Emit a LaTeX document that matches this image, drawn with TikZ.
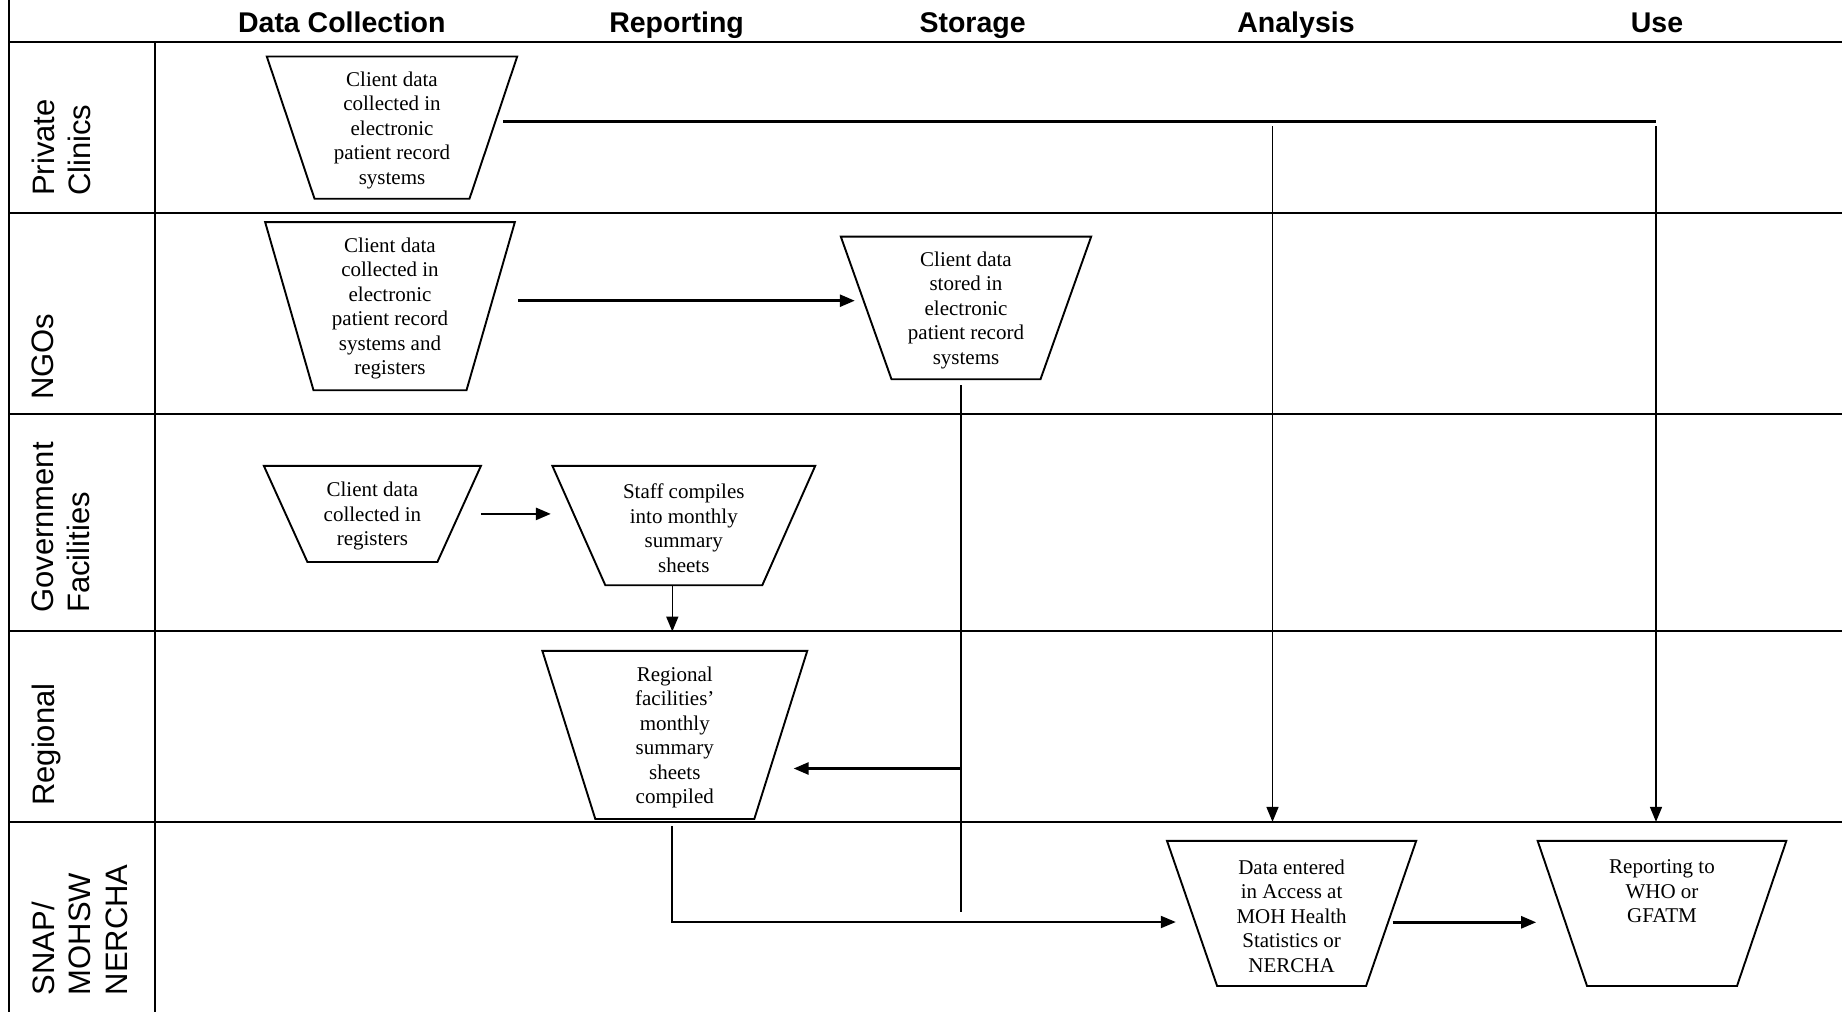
\documentclass[tikz,border=0pt]{standalone}
\usepackage{fontspec}
\setmainfont{Liberation Serif}
\newfontfamily\arialfont{Liberation Sans}
\usetikzlibrary{calc,arrows.meta}

\tikzset{
  gridline/.style={line width=2.4pt},
  trapline/.style={line width=1.9pt, line join=miter},
  boxshape/.style={inner sep=0pt},
  boxtext/.style={inner sep=0pt, align=center, font=\fontsize{21}{24.5}\selectfont},
  hdr/.style={inner sep=0pt, anchor=base, font=\arialfont\bfseries\fontsize{28.5}{34}\selectfont},
  rowlbl/.style={inner sep=0pt, rotate=90, anchor=north west, align=left, font=\arialfont\fontsize{31}{36.5}\selectfont},
  thickline/.style={line width=2.6pt},
  midline/.style={line width=2.0pt},
  thinline/.style={line width=1.6pt},
  tipped/.style={-{Triangle[length=15pt,width=12pt]}},
}

% name, cx, cy, top width, bottom width, height, text, text shift
\newcommand\trapbox[8]{%
  \node[boxshape, minimum width=#4pt, minimum height=#6pt] (#1) at (#2,#3) {};
  \draw[trapline] (#1.north west) -- (#1.north east) -- ($(#1.south)+(#5/2,0)$) -- ($(#1.south)+(-#5/2,0)$) -- cycle;
  \node[boxtext] (#1txt) at ($(#1.center)+(0,#8)$) {#7};
}

\begin{document}
\begin{tikzpicture}[x=1pt,y=-1pt]
\useasboundingbox (0,0) rectangle (1842,1012);
\fill[white] (0,0) rectangle (1842,1012);

% grid
\draw[gridline] (9,0) -- (9,1012);
\draw[gridline] (155,42) -- (155,1012);
\foreach \yy in {42,213,414,631,822} \draw[gridline] (9,\yy) -- (1842,\yy);

% column headers
\node[hdr] (hDC) at (341.8,32.3) {Data Collection};
\node[hdr] (hRE) at (676.6,32.3) {Reporting};
\node[hdr] (hST) at (972.6,32.3) {Storage};
\node[hdr] (hAN) at (1296,32.3) {Analysis};
\node[hdr] (hUS) at (1657,32.3) {Use};

% row labels
\node[rowlbl] (lPC) at (31.5,196) {Private\\Clinics};
\node[rowlbl] (lNG) at (31.5,400) {NGOs};
\node[rowlbl] (lGF) at (31.5,613) {Government\\Facilities};
\node[rowlbl] (lRG) at (31.5,806) {Regional};
\node[rowlbl] (lSN) at (31.5,995.5) {SNAP/\\MOHSW\\NERCHA};

% boxes
\trapbox{t1}{392}{127.6}{250}{155}{141.8}{Client data\\collected in\\electronic\\patient record\\systems}{2.5}
\trapbox{t2}{390}{306.2}{249.3}{153}{167.7}{Client data\\collected in\\electronic\\patient record\\systems and\\registers}{2.5}
\trapbox{t3}{966}{307.9}{250}{149}{142.3}{Client data\\stored in\\electronic\\patient record\\systems}{2.5}
\trapbox{t4}{372.4}{513.9}{216.7}{130}{95.7}{Client data\\collected in\\registers}{2.5}
\trapbox{t5}{683.8}{525.5}{262.5}{157}{119}{Staff compiles\\into monthly\\summary\\sheets}{2.5}
\trapbox{t6}{674.8}{734.9}{264.5}{159}{167.7}{Regional\\facilities'\\monthly\\summary\\sheets\\compiled}{2.5}
\trapbox{t7}{1291.6}{913.4}{248.8}{149}{144.7}{Data entered\\in Access at\\MOH Health\\Statistics or\\NERCHA}{2.5}
\trapbox{t8}{1662}{913.4}{248.3}{150}{144.7}{Reporting to\\WHO or\\GFATM\\\strut\\\strut}{6.2}

% connectors
\coordinate (pcA) at (1272.5,126);
\coordinate (pcU) at (1656,126);
\draw[thickline] ($(t1.east)+(-14,-6.1)$) coordinate (pcS) -- (pcS -| pcU);
\draw[thinline,tipped,shorten >=19pt] (pcA) -- (pcA |- t7.north);
\draw[thinline,tipped,shorten >=19pt] (pcU) -- (pcU |- t8.north);

\draw[thickline,tipped] ($(t2.east)+(3.5,-5.5)$) -- ($(t3.west)+(14,-7.2)$);

\coordinate (stoTop) at ($(t3.south)+(-5,6)$);
\coordinate (stoEnd) at (961,912);
\draw[thickline] (stoTop) -- (stoTop |- stoEnd);
\coordinate (r6) at ($(t6.east)+(-13.6,33.6)$);
\draw[thickline,tipped] (r6 -| stoTop) -- (r6);

\coordinate (t5in) at ($(t5.west)+(-1.5,0)$);
\draw[thickline,tipped] (t4.east) -- (t4.east -| t5in);

\coordinate (v5) at ($(t5.south)+(-11.5,0)$);
\draw[thinline,tipped,shorten >=19.3pt] (v5) -- (v5 |- t6.north);

\draw[midline,tipped] ($(t6.south)+(-2.4,7)$) |- ($(t7.west)+(8.8,8.6)$);
\draw[thickline,tipped] ($(t7.east)+(-23.5,8.9)$) -- ($(t8.west)+(-1.5,8.9)$);
\end{tikzpicture}
\end{document}
